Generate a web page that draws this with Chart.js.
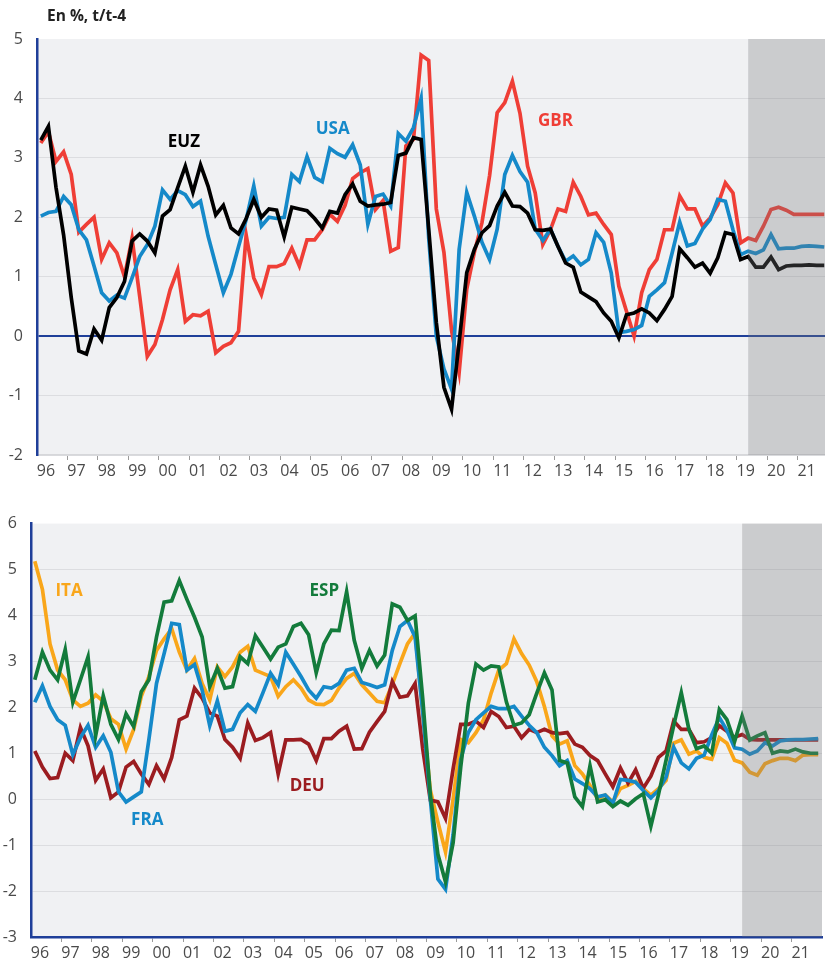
<!DOCTYPE html>
<html>
<head>
<meta charset="utf-8">
<script src="https://cdn.jsdelivr.net/npm/chart.js@4"></script>
<style>
  body { margin: 0; background: #fff; }
  #wrap { position: relative; width: 825px; height: 962px; font-family: "Open Sans", sans-serif; }
  canvas { position: absolute; left: 0; }
  #unit { position: absolute; left: 47px; top: 4px; font-size: 15.5px; font-weight: 700; color: #222; }
</style>
</head>
<body>
<div id="wrap">
  <canvas id="chartTop" width="825" height="480" style="top:0"></canvas>
  <canvas id="chartBottom" width="825" height="462" style="top:500px"></canvas>
  <div id="unit">En %, t/t-4</div>
</div>
<script>
// quarterly series, 1996T1 .. 2021T4, one row per year
const firstYear = 1996;
const yearLabels = ['96','97','98','99','00','01','02','03','04','05','06','07','08',
                    '09','10','11','12','13','14','15','16','17','18','19','20','21'];
const forecastStart = 2019.375;

const euz = [
  3.30, 3.53, 2.50, 1.70,   0.65, -0.25, -0.30, 0.12,   -0.07, 0.48, 0.65, 0.92,
  1.60, 1.72, 1.60, 1.40,   2.02, 2.13, 2.50, 2.86,   2.42, 2.88, 2.52, 2.04,
  2.20, 1.82, 1.72, 1.98,   2.30, 2.00, 2.14, 2.12,   1.67, 2.17, 2.14, 2.11,
  1.98, 1.82, 2.10, 2.07,   2.38, 2.56, 2.27, 2.19,   2.21, 2.22, 2.25, 3.04,
  3.08, 3.34, 3.31, 1.80,   0.23, -0.86, -1.23, -0.10,  1.07, 1.46, 1.74, 1.86,
  2.19, 2.42, 2.19, 2.18,   2.07, 1.79, 1.78, 1.80,   1.51, 1.23, 1.16, 0.74,
  0.66, 0.58, 0.39, 0.25,   -0.03, 0.36, 0.39, 0.46,  0.39, 0.26, 0.45, 0.67,
  1.47, 1.32, 1.16, 1.23,   1.06, 1.32, 1.74, 1.71,   1.29, 1.34, 1.16, 1.16,
  1.33, 1.12, 1.18, 1.19,   1.19, 1.20, 1.19, 1.19
];
const usa = [
  2.02, 2.08, 2.10, 2.35,   2.21, 1.79, 1.62, 1.18,   0.73, 0.59, 0.69, 0.64,
  0.98, 1.34, 1.54, 1.85,   2.46, 2.30, 2.45, 2.38,   2.18, 2.27, 1.68, 1.20,
  0.73, 1.04, 1.51, 1.96,   2.53, 1.85, 2.00, 1.98,   2.00, 2.72, 2.60, 3.02,
  2.67, 2.60, 3.16, 3.07,   3.01, 3.22, 2.88, 1.88,   2.35, 2.39, 2.19, 3.41,
  3.28, 3.51, 4.00, 1.65,   0.00, -0.55, -0.89, 1.46,  2.42, 2.02, 1.58, 1.29,
  1.80, 2.72, 3.04, 2.77,   2.59, 1.80, 1.61, 1.80,   1.51, 1.26, 1.35, 1.20,
  1.29, 1.74, 1.58, 1.06,   0.06, 0.08, 0.11, 0.18,   0.67, 0.78, 0.90, 1.40,
  1.92, 1.52, 1.56, 1.80,   1.96, 2.30, 2.27, 1.79,   1.37, 1.43, 1.39, 1.45,
  1.71, 1.47, 1.48, 1.48,   1.51, 1.52, 1.51, 1.50
];
const gbr = [
  3.25, 3.44, 2.94, 3.10,   2.72, 1.75, 1.88, 2.00,   1.29, 1.57, 1.40, 1.00,
  1.65, 0.67, -0.34, -0.14,  0.28, 0.78, 1.12, 0.25,  0.36, 0.34, 0.42, -0.28,
  -0.17, -0.11, 0.08, 1.70,  0.98, 0.70, 1.17, 1.17,  1.22, 1.48, 1.18, 1.62,
  1.62, 1.79, 2.05, 1.93,   2.20, 2.65, 2.75, 2.82,   2.13, 2.28, 1.43, 1.49,
  3.20, 3.31, 4.73, 4.64,   2.14, 1.41, 0.10, -0.61,  0.79, 1.41, 1.91, 2.70,
  3.76, 3.93, 4.29, 3.75,   2.86, 2.41, 1.54, 1.79,   2.14, 2.10, 2.59, 2.35,
  2.04, 2.07, 1.88, 1.71,   0.84, 0.42, 0.00, 0.73,   1.12, 1.29, 1.79, 1.79,
  2.36, 2.14, 2.14, 1.85,   1.99, 2.21, 2.58, 2.41,   1.57, 1.65, 1.61, 1.85,
  2.13, 2.17, 2.12, 2.05,   2.05, 2.05, 2.05, 2.05
];

const ita = [
  5.18, 4.57, 3.38, 2.81,   2.60, 2.16, 2.02, 2.09,   2.27, 2.13, 1.75, 1.63,
  1.09, 1.52, 2.24, 2.67,   3.24, 3.49, 3.71, 3.20,   2.81, 3.06, 2.52, 2.16,
  2.88, 2.67, 2.88, 3.20,   3.33, 2.81, 2.74, 2.67,   2.24, 2.45, 2.60, 2.42,
  2.16, 2.07, 2.06, 2.15,   2.42, 2.63, 2.74, 2.49,   2.31, 2.13, 2.10, 2.50,
  2.95, 3.38, 3.62, 1.88,   0.20, -0.50, -1.15, 0.00,  1.30, 1.23, 1.45, 1.73,
  2.31, 2.81, 2.95, 3.49,   3.17, 2.92, 2.56, 2.02,   1.38, 1.20, 1.27, 0.73,
  0.55, 0.30, 0.01, 0.09,   -0.06, 0.23, 0.30, 0.39,  0.23, 0.09, 0.23, 0.41,
  1.22, 1.29, 0.98, 1.05,   0.91, 0.87, 1.34, 1.22,   0.85, 0.79, 0.59, 0.52,
  0.77, 0.84, 0.89, 0.89,   0.84, 0.96, 0.97, 0.97
];
const esp = [
  2.60, 3.20, 2.81, 2.60,   3.26, 2.11, 2.60, 3.10,   1.38, 2.25, 1.63, 1.30,
  1.86, 1.58, 2.34, 2.60,   3.53, 4.29, 4.32, 4.76,   4.35, 3.96, 3.53, 2.45,
  2.85, 2.42, 2.45, 3.10,   2.95, 3.56, 3.31, 3.05,   3.31, 3.38, 3.76, 3.83,
  3.58, 2.75, 3.38, 3.68,   3.67, 4.52, 3.46, 2.85,   3.24, 2.90, 3.14, 4.25,
  4.18, 3.89, 3.99, 2.20,   0.10, -1.20, -1.80, -0.95, 0.70, 2.09, 2.94, 2.81,
  2.90, 2.88, 2.12, 1.61,   1.66, 1.84, 2.31, 2.75,   2.38, 0.84, 0.79, 0.05,
  -0.16, 0.73, -0.06, -0.01, -0.16, -0.04, -0.13, 0.01, 0.12, -0.59, 0.10, 0.85,
  1.60, 2.32, 1.52, 1.10,   1.16, 1.00, 1.95, 1.73,   1.25, 1.81, 1.29, 1.38,
  1.45, 1.00, 1.05, 1.03,   1.09, 1.03, 1.00, 1.00
];
const fra = [
  2.11, 2.47, 2.02, 1.73,   1.61, 0.97, 1.34, 1.61,   1.13, 1.38, 1.02, 0.16,
  -0.06, 0.05, 0.16, 1.30,  2.52, 3.17, 3.83, 3.80,   2.81, 2.93, 2.38, 1.60,
  2.14, 1.48, 1.52, 1.88,   2.06, 1.91, 2.32, 2.74,   2.49, 3.20, 2.94, 2.67,
  2.38, 2.20, 2.45, 2.42,   2.52, 2.81, 2.85, 2.54,   2.49, 2.43, 2.49, 3.24,
  3.76, 3.89, 3.53, 1.90,   0.00, -1.74, -1.96, -0.77, 0.87, 1.45, 1.73, 1.88,
  2.02, 1.97, 1.97, 2.02,   1.81, 1.61, 1.45, 1.13,   0.95, 0.73, 0.84, 0.44,
  0.34, 0.23, 0.05, 0.09,   -0.09, 0.43, 0.41, 0.37,  0.19, 0.03, 0.19, 0.48,
  1.13, 0.79, 0.66, 0.89,   0.96, 1.40, 1.78, 1.50,   1.12, 1.09, 0.98, 1.05,
  1.23, 1.16, 1.27, 1.29,   1.30, 1.30, 1.31, 1.32
];
const deu = [
  1.05, 0.70, 0.45, 0.47,   1.00, 0.84, 1.56, 1.16,   0.41, 0.66, 0.03, 0.16,
  0.70, 0.82, 0.55, 0.32,   0.73, 0.44, 0.91, 1.73,   1.81, 2.42, 2.20, 1.88,
  1.81, 1.30, 1.13, 0.89,   1.66, 1.28, 1.34, 1.45,   0.55, 1.29, 1.29, 1.30,
  1.20, 0.84, 1.32, 1.32,   1.48, 1.59, 1.09, 1.10,   1.46, 1.69, 1.91, 2.56,
  2.22, 2.25, 2.52, 1.10,   -0.02, -0.06, -0.42, 0.66, 1.63, 1.63, 1.70, 1.56,
  1.91, 1.80, 1.56, 1.59,   1.34, 1.52, 1.45, 1.52,   1.45, 1.43, 1.45, 1.20,
  1.13, 0.95, 0.84, 0.55,   0.27, 0.68, 0.35, 0.64,   0.24, 0.50, 0.91, 1.05,
  1.70, 1.52, 1.52, 1.23,   1.25, 1.34, 1.60, 1.48,   1.35, 1.41, 1.30, 1.29,
  1.29, 1.29, 1.29, 1.29,   1.29, 1.29, 1.29, 1.29
];

// in-chart series names and where they sit (year, value)
const topNames = ['EUZ', 'USA', 'GBR'];
const topNameAt = [[2000.83, 3.26], [2005.72, 3.48], [2013.04, 3.62]];
const bottomNames = ['ITA', 'ESP', 'DEU', 'FRA'];
const bottomNameAt = [[1997.25, 4.54], [2005.64, 4.54], [2005.08, 0.29], [1999.82, -0.45]];

const colors = {
  EUZ: '#000000', USA: '#1589c9', GBR: '#ef3e36',
  ITA: '#f9a61a', ESP: '#137b3b', DEU: '#9b1c20', FRA: '#1589c9'
};
const axisBlue = '#1f3f99';
const tickFont = { family: '"Open Sans", sans-serif', size: 16 };

function points(values) {
  return values.map((v, i) => ({ x: firstYear + (i + 0.5) / 4, y: v }));
}

// light plot background, grey forecast band laid over the lines, series names
const decor = {
  id: 'decor',
  beforeDraw(chart) {
    const { ctx, chartArea: a } = chart;
    ctx.save();
    ctx.fillStyle = '#f0f1f3';
    ctx.fillRect(a.left, a.top, a.right - a.left, a.bottom - a.top);
    ctx.restore();
  },
  afterDatasetsDraw(chart) {
    const { ctx, chartArea: a, scales } = chart;
    const x0 = scales.x.getPixelForValue(forecastStart);
    ctx.save();
    ctx.fillStyle = 'rgba(120,120,124,0.3)';
    ctx.fillRect(x0, a.top, a.right - x0, a.bottom - a.top);
    ctx.restore();
  },
  afterDraw(chart, args, opts) {
    const { ctx, scales } = chart;
    ctx.save();
    ctx.font = 'bold 17px "Open Sans", sans-serif';
    ctx.textAlign = 'center';
    ctx.textBaseline = 'middle';
    opts.names.forEach((name, i) => {
      const [yr, val] = opts.at[i];
      ctx.fillStyle = colors[name];
      ctx.fillText(name, scales.x.getPixelForValue(yr), scales.y.getPixelForValue(val));
    });
    ctx.restore();
  }
};

function makeChart(id, cfg) {
  return new Chart(document.getElementById(id), {
    type: 'line',
    data: {
      datasets: cfg.series.map(s => ({
        label: s.name,
        data: points(s.values),
        borderColor: colors[s.name],
        borderWidth: 3.7,
        pointRadius: 0,
        tension: 0,
        fill: false
      }))
    },
    options: {
      responsive: false,
      animation: false,
      devicePixelRatio: 1,
      layout: { padding: { top: cfg.padTop, right: cfg.padRight, left: 0, bottom: 0 } },
      plugins: {
        legend: { display: false },
        tooltip: { enabled: false },
        decor: { names: cfg.names, at: cfg.nameAt }
      },
      scales: {
        x: {
          type: 'linear',
          min: firstYear,
          max: cfg.xMax,
          afterBuildTicks: s => { s.ticks = yearLabels.map((l, i) => ({ value: firstYear + i })); },
          afterFit: s => { s.height = 25; },
          ticks: {
            callback: (v, i) => yearLabels[i] || '',
            autoSkip: false,
            maxRotation: 0,
            labelOffset: 9,
            padding: 2,
            font: tickFont,
            color: '#4a4a4a'
          },
          grid: {
            drawOnChartArea: false,
            drawTicks: true,
            tickLength: 5,
            color: c => (c.tick && c.tick.value === firstYear) ? 'rgba(0,0,0,0)' : '#9a9a9a'
          },
          border: { color: cfg.xBorder, width: cfg.xBorderWidth }
        },
        y: {
          min: cfg.yMin,
          max: cfg.yMax,
          afterFit: s => { s.width = cfg.yWidth; },
          ticks: { stepSize: 1, padding: 14, font: tickFont, color: '#4a4a4a' },
          grid: {
            drawTicks: false,
            color: c => {
              if (c.tick.value === cfg.yMax) return 'rgba(0,0,0,0)';
              if (cfg.zeroLine && c.tick.value === 0) return axisBlue;
              return '#dcdde0';
            },
            lineWidth: c => (cfg.zeroLine && c.tick.value === 0) ? 2 : 1
          },
          border: { color: axisBlue, width: 2.5 }
        }
      }
    },
    plugins: [decor]
  });
}

makeChart('chartTop', {
  series: [
    { name: 'EUZ', values: euz },
    { name: 'USA', values: usa },
    { name: 'GBR', values: gbr }
  ],
  names: topNames, nameAt: topNameAt,
  padTop: 39, padRight: 0, xMax: 2021.9,
  yMin: -2, yMax: 5, yWidth: 37, zeroLine: true,
  xBorder: '#d6d7da', xBorderWidth: 1.5
});

makeChart('chartBottom', {
  series: [
    { name: 'ESP', values: esp },
    { name: 'FRA', values: fra },
    { name: 'DEU', values: deu },
    { name: 'ITA', values: ita }
  ],
  names: bottomNames, nameAt: bottomNameAt,
  padTop: 19, padRight: 3, xMax: 2022,
  yMin: -3, yMax: 6, yWidth: 31, zeroLine: false,
  xBorder: axisBlue, xBorderWidth: 2.5
});
</script>
</body>
</html>
